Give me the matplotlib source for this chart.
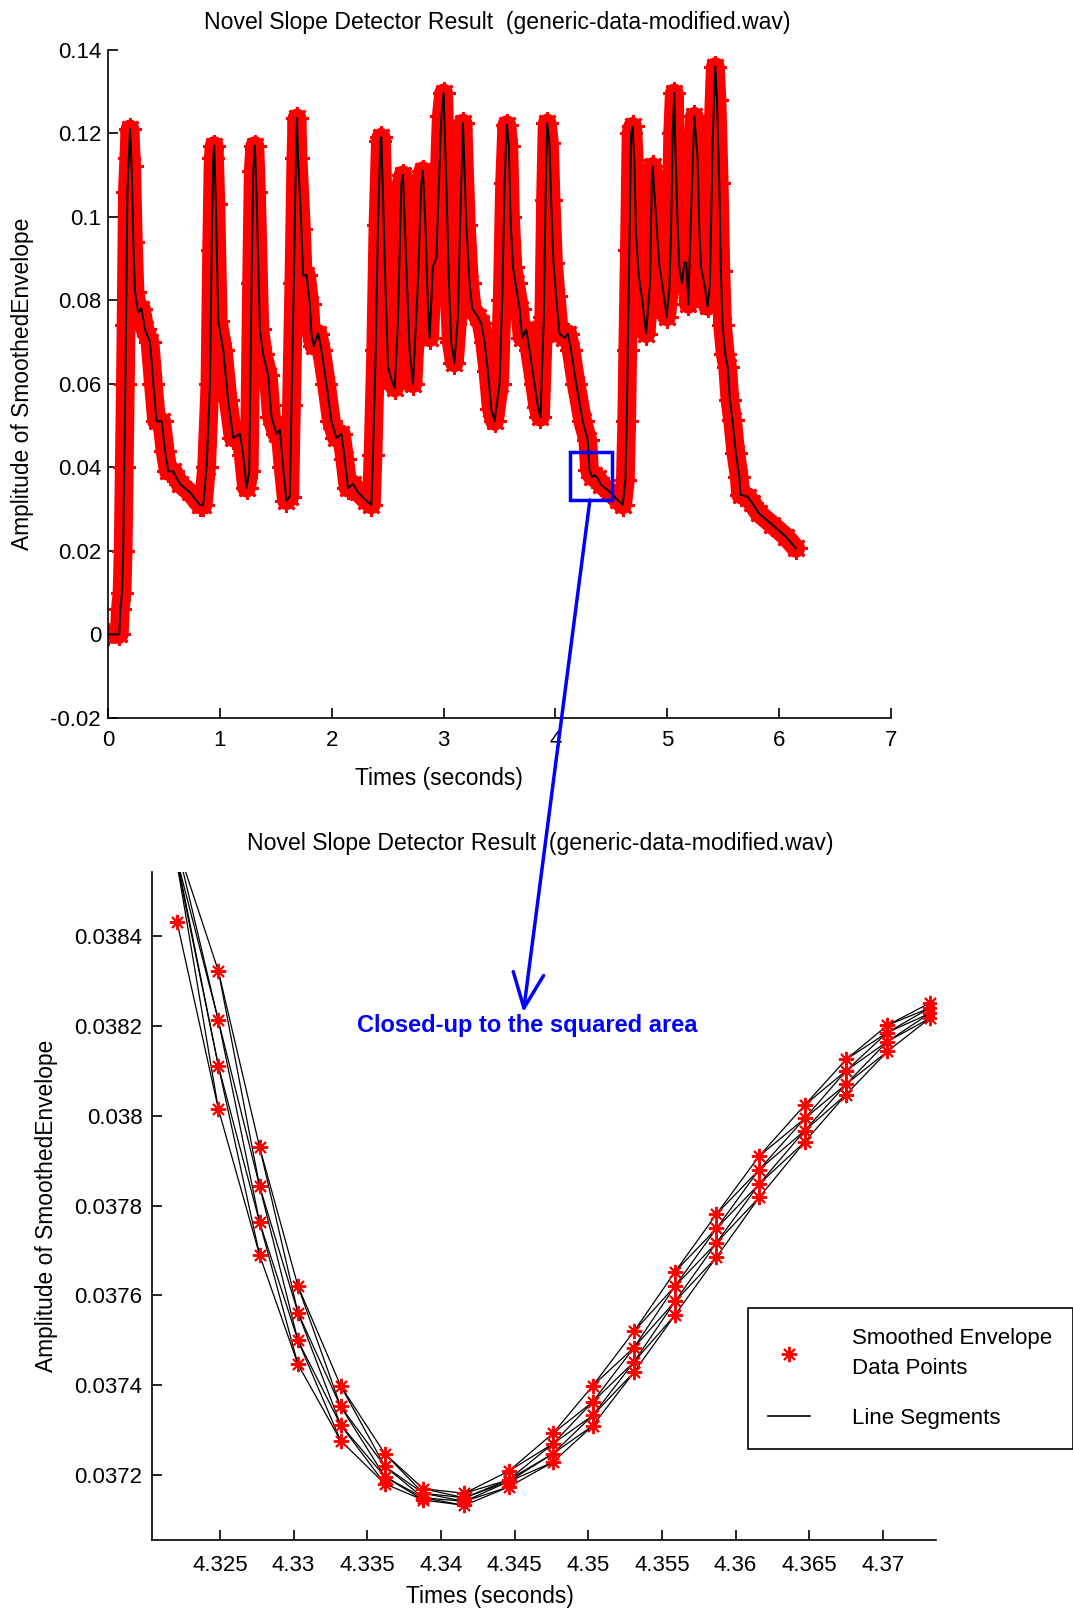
import matplotlib
matplotlib.use("Agg")
import matplotlib.pyplot as plt
from matplotlib.patches import Rectangle, ConnectionPatch, ArrowStyle
from matplotlib.lines import Line2D
from matplotlib.collections import LineCollection

plt.rcParams['font.family'] = ['Liberation Sans', 'DejaVu Sans']
plt.rcParams['font.size'] = 16

# ---------------- data: top panel (smoothed envelope vertices) ----------------
env_t = [0.00, 0.10, 0.11, 0.125, 0.135, 0.145, 0.155, 0.161, 0.173, 0.185, 0.196,
         0.211, 0.226, 0.241, 0.270, 0.298, 0.330, 0.375, 0.405, 0.434, 0.480, 0.509,
         0.539, 0.583, 0.643, 0.732, 0.821, 0.851, 0.881, 0.911, 0.926, 0.940, 0.949,
         0.964, 0.985, 1.030, 1.074, 1.119, 1.179, 1.208, 1.238, 1.262, 1.283, 1.298,
         1.3125, 1.327, 1.357, 1.387, 1.432, 1.461, 1.506, 1.536, 1.565, 1.595, 1.625,
         1.640, 1.661, 1.679, 1.689, 1.699, 1.729, 1.744, 1.774, 1.804, 1.818, 1.839,
         1.878, 1.908, 1.952, 1.997, 2.042, 2.086, 2.116, 2.146, 2.190, 2.235, 2.309,
         2.354, 2.369, 2.393, 2.413, 2.435, 2.443, 2.458, 2.479, 2.503, 2.533, 2.563,
         2.592, 2.622, 2.637, 2.667, 2.696, 2.726, 2.770, 2.800, 2.815, 2.839, 2.860,
         2.875, 2.904, 2.935, 2.958, 2.979, 3.000, 3.024, 3.048, 3.068, 3.096, 3.128,
         3.149, 3.173, 3.203, 3.232, 3.256, 3.306, 3.336, 3.366, 3.396, 3.426, 3.455,
         3.500, 3.524, 3.545, 3.565, 3.583, 3.598, 3.619, 3.643, 3.679, 3.702, 3.738,
         3.768, 3.813, 3.842, 3.866, 3.896, 3.911, 3.926, 3.946, 3.961, 3.982, 4.006,
         4.036, 4.080, 4.110, 4.140, 4.185, 4.244, 4.289, 4.304, 4.328, 4.348, 4.378,
         4.408, 4.482, 4.556, 4.601, 4.625, 4.637, 4.646, 4.661, 4.676, 4.690, 4.705,
         4.720, 4.744, 4.780, 4.810, 4.845, 4.863, 4.869, 4.899, 4.926, 4.970, 4.994,
         5.018, 5.033, 5.048, 5.0625, 5.071, 5.092, 5.107, 5.131, 5.152, 5.170, 5.188,
         5.211, 5.241, 5.271, 5.286, 5.301, 5.330, 5.360, 5.381, 5.405, 5.429, 5.444,
         5.464, 5.479, 5.494, 5.518, 5.539, 5.560, 5.583, 5.613, 5.643, 5.655, 5.717,
         5.760, 5.818, 5.940, 6.060, 6.149]
env_a = [0.0, 0.0, 0.006, 0.010, 0.020, 0.040, 0.060, 0.074, 0.106, 0.114, 0.121,
         0.112, 0.094, 0.082, 0.077, 0.078, 0.073, 0.070, 0.060, 0.051, 0.051, 0.044,
         0.039, 0.039, 0.036, 0.034, 0.031, 0.031, 0.040, 0.060, 0.092, 0.114, 0.117,
         0.103, 0.075, 0.068, 0.056, 0.047, 0.048, 0.043, 0.035, 0.039, 0.084, 0.111,
         0.117, 0.106, 0.073, 0.067, 0.062, 0.052, 0.048, 0.049, 0.040, 0.032, 0.033,
         0.055, 0.084, 0.114, 0.1236, 0.114, 0.097, 0.086, 0.086, 0.079, 0.072, 0.069,
         0.072, 0.068, 0.060, 0.051, 0.047, 0.048, 0.042, 0.035, 0.036, 0.034, 0.032,
         0.031, 0.043, 0.068, 0.098, 0.118, 0.119, 0.105, 0.084, 0.064, 0.061, 0.059,
         0.075, 0.108, 0.110, 0.088, 0.068, 0.060, 0.084, 0.108, 0.111, 0.097, 0.078,
         0.071, 0.088, 0.090, 0.108, 0.124, 0.1296, 0.108, 0.084, 0.070, 0.065, 0.076,
         0.100, 0.1224, 0.098, 0.084, 0.078, 0.076, 0.0745, 0.070, 0.063, 0.054, 0.051,
         0.060, 0.080, 0.108, 0.122, 0.117, 0.100, 0.088, 0.084, 0.078, 0.071, 0.073,
         0.068, 0.060, 0.0545, 0.052, 0.076, 0.104, 0.1224, 0.1176, 0.104, 0.089, 0.081,
         0.072, 0.071, 0.072, 0.068, 0.060, 0.051, 0.0465, 0.0393, 0.0377, 0.0381, 0.0374,
         0.0358, 0.0342, 0.0322, 0.031, 0.037, 0.051, 0.068, 0.092, 0.120, 0.1216, 0.1136,
         0.096, 0.086, 0.079, 0.072, 0.084, 0.111, 0.112, 0.100, 0.089, 0.081, 0.076,
         0.0825, 0.096, 0.120, 0.1296, 0.1176, 0.098, 0.088, 0.084, 0.089, 0.089, 0.079,
         0.100, 0.124, 0.114, 0.097, 0.088, 0.084, 0.0785, 0.084, 0.118, 0.1359, 0.128,
         0.108, 0.087, 0.074, 0.067, 0.064, 0.056, 0.0513, 0.0433, 0.0377, 0.0334, 0.033,
         0.0314, 0.029, 0.0262, 0.0234, 0.0206]

top_xticks = [0, 1, 2, 3, 4, 5, 6, 7]
top_yticks = [-0.02, 0, 0.02, 0.04, 0.06, 0.08, 0.10, 0.12, 0.14]
top_yticklabels = ['-0.02', '0', '0.02', '0.04', '0.06', '0.08', '0.1', '0.12', '0.14']
zoom_box_t = [4.134, 4.503]
zoom_box_a = [0.03216, 0.04373]

# ---------------- data: bottom panel (close-up) ----------------
pt_x = [4.3221, 4.3249, 4.3277, 4.3303, 4.3332, 4.3362, 4.3388, 4.3416, 4.3446, 4.3476,
        4.3503, 4.3531, 4.3559, 4.3587, 4.3616, 4.3647, 4.3675, 4.3703, 4.3732]
row0 = [0.03860, 0.038322, 0.037930, 0.037621, 0.037399, 0.037248, 0.037170, 0.037160,
        0.037209, 0.037293, 0.037399, 0.037520, 0.037653, 0.037781, 0.037910, 0.038024,
        0.038125, 0.038201, 0.038251]
row1 = [0.03857, 0.038212, 0.037843, 0.037562, 0.037353, 0.037220, 0.037160, 0.037150,
        0.037190, 0.037270, 0.037363, 0.037484, 0.037621, 0.037749, 0.037880, 0.037994,
        0.038100, 0.038185, 0.038240]
row2 = [0.03856, 0.038111, 0.037763, 0.037500, 0.037312, 0.037197, 0.037150, 0.037142,
        0.037186, 0.037248, 0.037333, 0.037452, 0.037587, 0.037717, 0.037848, 0.037967,
        0.038070, 0.038165, 0.038228]
row3 = [0.03843, 0.038015, 0.037690, 0.037447, 0.037277, 0.037181, 0.037145, 0.037133,
        0.037174, 0.037229, 0.037310, 0.037429, 0.037557, 0.037685, 0.037818, 0.037942,
        0.038047, 0.038143, 0.038217]
bot_xticks = [4.325, 4.33, 4.335, 4.34, 4.345, 4.35, 4.355, 4.36, 4.365, 4.37]
bot_xticklabels = ['4.325', '4.33', '4.335', '4.34', '4.345', '4.35', '4.355', '4.36', '4.365', '4.37']
bot_yticks = [0.0372, 0.0374, 0.0376, 0.0378, 0.0380, 0.0382, 0.0384]
bot_yticklabels = ['0.0372', '0.0374', '0.0376', '0.0378', '0.038', '0.0382', '0.0384']

title = 'Novel Slope Detector Result  (generic-data-modified.wav)'
xlab = 'Times (seconds)'
ylab = 'Amplitude of SmoothedEnvelope'

ASTER = (8, 2, 0)

fig = plt.figure(figsize=(10.73, 16.13), dpi=100)
ax1 = fig.add_axes([0.1007, 0.5549, 0.7297, 0.4144])
ax2 = fig.add_axes([0.1417, 0.04526, 0.7306, 0.4141])

for ax in (ax1, ax2):
    ax.spines['top'].set_visible(False)
    ax.spines['right'].set_visible(False)
    for s in ('left', 'bottom'):
        ax.spines[s].set_linewidth(1.2)
    ax.tick_params(direction='in', length=7, width=1.2, labelsize=16)
    ax.patch.set_alpha(0)

# ---- top panel ----
ax1.plot(env_t, env_a, color='red', lw=13.5, solid_joinstyle='round',
         solid_capstyle='round', zorder=2)
ax1.plot(env_t, env_a, linestyle='none', marker=ASTER, ms=16, mew=2,
         mec='red', zorder=2)
ax1.plot(env_t, env_a, color='black', lw=1.4, zorder=3)
ax1.add_patch(Rectangle((zoom_box_t[0], zoom_box_a[0]), zoom_box_t[1] - zoom_box_t[0],
                        zoom_box_a[1] - zoom_box_a[0], fill=False, edgecolor='blue',
                        lw=2.5, zorder=4))
ax1.set_xlim(0, 7)
ax1.set_ylim(-0.02, 0.14)
ax1.set_xticks(top_xticks)
ax1.set_xticklabels([str(v) for v in top_xticks])
ax1.set_yticks(top_yticks)
ax1.set_yticklabels(top_yticklabels)
ax1.tick_params(axis='x', pad=9)
ax1.tick_params(axis='y', pad=5)
ax1.text(0.497, 1.040, title, transform=ax1.transAxes, ha='center', va='center', fontsize=16.6)
ax1.text(0.423, -0.0912, xlab, transform=ax1.transAxes, ha='center', va='center', fontsize=16.4)
ax1.text(-0.109, 0.5, ylab, transform=ax1.transAxes, ha='center', va='center',
         rotation=90, fontsize=16.4)

# ---- bottom panel ----
rows = [row0, row1, row2, row3]
segs = []
for i in range(len(pt_x) - 1):
    for j in range(len(rows)):
        segs.append([(pt_x[i], rows[j][i]), (pt_x[i + 1], rows[j][i + 1])])
        if j + 1 < len(rows):
            segs.append([(pt_x[i], rows[j][i]), (pt_x[i + 1], rows[j + 1][i + 1])])
lc = LineCollection(segs, colors='black', linewidths=0.9, zorder=2)
ax2.add_collection(lc)
for r in rows:
    ax2.plot(pt_x, r, linestyle='none', marker=ASTER, ms=11, mew=1.4, mec='red', zorder=3)
ax2.set_xlim(4.3204, 4.3736)
ax2.set_ylim(0.037056, 0.038542)
ax2.set_xticks(bot_xticks)
ax2.set_xticklabels(bot_xticklabels)
ax2.set_yticks(bot_yticks)
ax2.set_yticklabels(bot_yticklabels)
ax2.tick_params(axis='x', pad=11)
ax2.tick_params(axis='y', pad=7)
ax2.text(0.495, 1.0425, title, transform=ax2.transAxes, ha='center', va='center', fontsize=16.6)
ax2.text(0.431, -0.0853, xlab, transform=ax2.transAxes, ha='center', va='center', fontsize=16.4)
ax2.text(-0.135, 0.5, ylab, transform=ax2.transAxes, ha='center', va='center',
         rotation=90, fontsize=16.4)
ax2.text(4.34586, 0.0382, 'Closed-up to the squared area', color='blue',
         fontweight='bold', fontsize=17, ha='center', va='center', zorder=5)

# legend
h1 = Line2D([], [], linestyle='none', marker=ASTER, ms=11, mew=1.4, mec='red')
h2 = Line2D([], [], color='black', lw=1.2)
leg = fig.legend([h1, h2], ['Smoothed Envelope\nData Points', 'Line Segments'],
                 loc='upper left', bbox_to_anchor=(748 / 1073, 1 - 1308 / 1613),
                 borderaxespad=0, fancybox=False, framealpha=1, edgecolor='black',
                 fontsize=16, labelspacing=1.3, handlelength=1.9, handletextpad=1.9,
                 borderpad=0.9)
for t in leg.get_texts():
    t.set_linespacing(1.55)
leg.get_frame().set_linewidth(1.2)

# arrow from zoom box to close-up
con = ConnectionPatch(xyA=(4.308, zoom_box_a[0]), coordsA=ax1.transData,
                      xyB=(4.3456, 0.03823), coordsB=ax2.transData,
                      arrowstyle=ArrowStyle('->', head_length=0.5, head_width=0.22),
                      mutation_scale=50, color='blue', lw=2.5, shrinkA=0, shrinkB=0,
                      zorder=10)
fig.add_artist(con)

fig.savefig('out.png', dpi=100, facecolor='white')
